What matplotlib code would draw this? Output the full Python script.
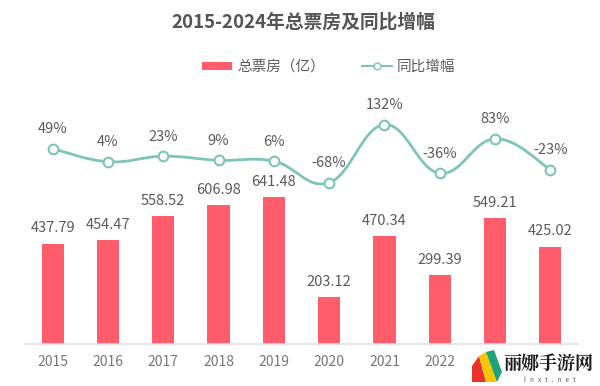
import matplotlib
matplotlib.use("Agg")
import matplotlib.pyplot as plt
import numpy as np
from matplotlib.path import Path
from matplotlib.patches import PathPatch, Patch, Polygon
from matplotlib.lines import Line2D

plt.rcParams['font.family'] = ['Noto Sans CJK SC', 'DejaVu Sans']

years = ["2015", "2016", "2017", "2018", "2019", "2020", "2021", "2022", "2023", "2024"]
box_office = [437.79, 454.47, 558.52, 606.98, 641.48, 203.12, 470.34, 299.39, 549.21, 425.02]
growth = [49, 4, 23, 9, 6, -68, 132, -36, 83, -23]

BAR_COLOR = "#FF5C6C"
LINE_COLOR = "#7FC4B8"
TEXT_COLOR = "#5A5A5A"
W, H = 600, 386


def smooth_path(xs, ys, k=0.2):
    """Bezier curve through the points (Catmull-Rom style control points)."""
    xs = np.asarray(xs, float)
    ys = np.asarray(ys, float)
    n = len(xs)
    verts = [(xs[0], ys[0])]
    codes = [Path.MOVETO]
    for i in range(n - 1):
        p0 = max(i - 1, 0)
        p3 = min(i + 2, n - 1)
        c1 = (xs[i] + (xs[i + 1] - xs[p0]) * k, ys[i] + (ys[i + 1] - ys[p0]) * k)
        c2 = (xs[i + 1] - (xs[p3] - xs[i]) * k, ys[i + 1] - (ys[p3] - ys[i]) * k)
        verts += [c1, c2, (xs[i + 1], ys[i + 1])]
        codes += [Path.CURVE4] * 3
    return Path(verts, codes)


def px(x, y):
    # pixel coords (from top-left) -> figure fraction
    return (x / W, 1 - y / H)


fig = plt.figure(figsize=(6.0, 3.86), dpi=100)
ax = fig.add_axes([25 / W, 1 - 344 / H, 553 / W, 229 / H])
x = np.arange(len(years))

ax.bar(x, box_office, width=0.4, color=BAR_COLOR, zorder=2)
for xi, v in zip(x, box_office):
    ax.annotate(f"{v:.2f}", (xi, v), xytext=(0, 6), textcoords="offset points",
                ha="center", va="bottom", fontsize=10.5, color=TEXT_COLOR)

ax.set_xlim(-0.5, len(years) - 0.5)
ax.set_ylim(0, 1000)
ax.set_xticks(x)
ax.set_xticklabels(years, fontsize=10, color="#777777")
ax.tick_params(axis="x", length=0, pad=8)
# the last two year labels sit under the watermark
for lab in ax.get_xticklabels()[8:]:
    lab.set_visible(False)
ax.set_yticks([])
for s in ["top", "right", "left"]:
    ax.spines[s].set_visible(False)
ax.spines["bottom"].set_color("#E3E3E3")
ax.spines["bottom"].set_linewidth(1.2)

ax2 = ax.twinx()
ax2.set_ylim(-624, 165)
ax2.set_yticks([])
for s in ax2.spines.values():
    s.set_visible(False)
ax2.add_patch(PathPatch(smooth_path(x, growth), facecolor="none",
                        edgecolor=LINE_COLOR, lw=2, zorder=3))
ax2.plot(x, growth, linestyle="none", marker="o", markersize=7,
         markerfacecolor="white", markeredgecolor=LINE_COLOR, markeredgewidth=1.5, zorder=4)
for xi, g in zip(x, growth):
    ax2.annotate(f"{g}%", (xi, g), xytext=(0, 9), textcoords="offset points",
                 ha="center", va="bottom", fontsize=10.5, color=TEXT_COLOR)

fig.text(0.505, 1 - 22 / H, "2015-2024年总票房及同比增幅", ha="center", va="center",
         fontsize=13.5, fontweight="bold", color="#555555")

handles = [Patch(facecolor=BAR_COLOR, edgecolor="none"),
           Line2D([], [], color=LINE_COLOR, lw=1.5, marker="o", markersize=5,
                  markerfacecolor="white", markeredgecolor=LINE_COLOR)]
fig.legend(handles, ["总票房（亿）", "同比增幅"], loc="center", ncol=2,
           bbox_to_anchor=(0.548, 1 - 67 / H), frameon=False, fontsize=10.5,
           labelcolor=TEXT_COLOR, handlelength=2.05, handleheight=0.5,
           columnspacing=2.5, handletextpad=0.35)

# watermark in the lower right corner
logo = [
    ([(472, 382), (472, 366), (479, 356), (486, 382)], "#E8322B"),
    ([(479, 356), (486, 352), (497, 382), (486, 382)], "#F7C600"),
    ([(486, 352), (494, 350), (502, 372), (497, 382)], "#1FA37A"),
]
for pts, col in logo:
    fig.patches.append(Polygon([px(*p) for p in pts], closed=True, facecolor=col,
                               edgecolor="none", transform=fig.transFigure, figure=fig))
fig.text(*px(548, 364), "丽娜手游网", ha="center", va="center", fontsize=13,
         fontweight="bold", color="#1A1A1A", family=["Noto Serif CJK SC", "Noto Sans CJK SC"])
fig.text(*px(550, 380), "l   n   x   t   .   n   e   t", ha="center", va="center",
         fontsize=4.5, color="#555555")

fig.savefig("out.png", dpi=100)
